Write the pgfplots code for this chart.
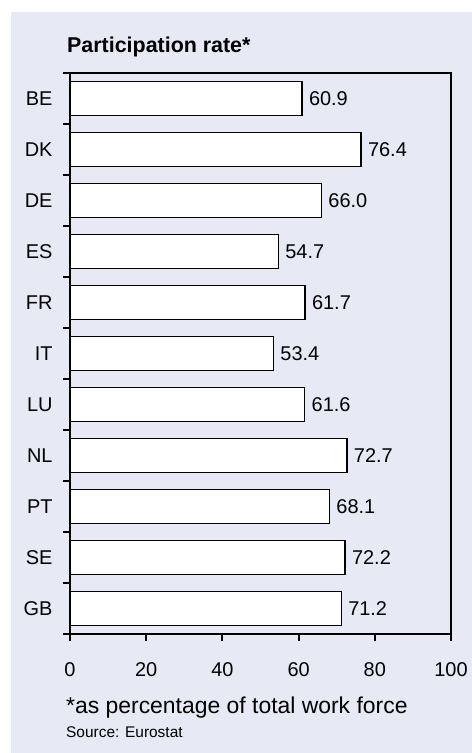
\documentclass[border=0pt]{standalone}
\usepackage{pgfplots}
\pgfplotsset{compat=1.18}
\usepackage{fontspec}
\setmainfont{Liberation Sans}
\definecolor{bgcol}{RGB}{231,233,245}
\begin{document}
\begin{tikzpicture}[x=1bp,y=1bp]
\path[use as bounding box] (0,0) rectangle (472,-753);
\fill[bgcol] (11,-12) rectangle (472,-753);
\node[anchor=base west,inner sep=0pt,font=\fontsize{21.5}{26}\selectfont\bfseries] at (67,-53) {Participation rate*};
\begin{axis}[
  at={(70bp,-634bp)}, anchor=south west,
  scale only axis, width=381bp, height=561bp,
  xbar, bar width=34bp,
  xmin=0, xmax=100, ymin=0.5, ymax=11.5, y dir=reverse,
  xtick={0,20,...,100}, ytick={1,...,11},
  yticklabels={BE,DK,DE,ES,FR,IT,LU,NL,PT,SE,GB},
  minor ytick={0.5,1.5,...,11.5},
  tick align=outside, xtick pos=bottom, ytick pos=left,
  major tick length=7bp, minor tick length=7bp,
  every major y tick/.append style={draw=none},
  tick style={line width=2bp, black},
  axis line style={line width=1.3bp},
  nodes near coords,
  nodes near coords style={anchor=west, xshift=3bp, text=black, font=\fontsize{20}{24}\selectfont, /pgf/number format/.cd, fixed, precision=1, zerofill, assume math mode=true},
  tick label style={font=\fontsize{20}{24}\selectfont, text=black},
  /pgf/number format/assume math mode=true,
  yticklabel style={xshift=-7bp},
  xticklabel style={yshift=-18bp},
]
\addplot[draw=black, fill=white, line width=1.3bp] coordinates {(60.9,1) (76.4,2) (66.0,3) (54.7,4) (61.7,5) (53.4,6) (61.6,7) (72.7,8) (68.1,9) (72.2,10) (71.2,11)};
\end{axis}
\node[anchor=base west,inner sep=0pt,font=\fontsize{23}{27}\selectfont] at (66,-713) {*as percentage of total work force};
\node[anchor=base west,inner sep=0pt,font=\fontsize{15.5}{18}\selectfont] at (66,-737) {Source: Eurostat};
\end{tikzpicture}
\end{document}
